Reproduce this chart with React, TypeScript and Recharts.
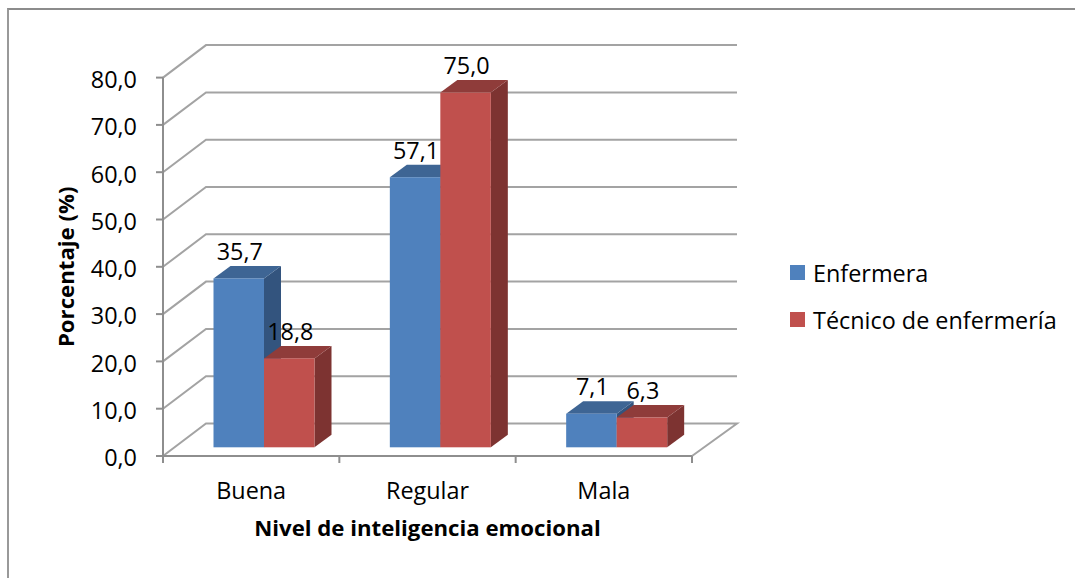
import React from 'react';
import { BarChart, Bar, XAxis, YAxis, CartesianGrid, Legend, LabelList } from 'recharts';

const categories = ['Buena', 'Regular', 'Mala'];
const enfermera = [35.7, 57.1, 7.1];
const tecnico = [18.8, 75.0, 6.3];
const yTicks = [0, 10, 20, 30, 40, 50, 60, 70, 80];
const seriesNames = ['Enfermera', 'Técnico de enfermería'];

const rows = categories.map((c, i) => ({ name: c, enfermera: enfermera[i], tecnico: tecnico[i] }));

const FONT = '"Open Sans", Lato, sans-serif';
const FS = 23.4;
const FS_BOLD = 22.2;
const W = 1075, H = 578;
const M = { top: 77.6, right: 383, bottom: 92, left: 103 };
const BAND = (W - M.left - 60 - M.right) / categories.length;
const PLOT_BOTTOM = H - M.bottom - 30;
const WALL = { dx: 43, dy: -32.5 };
const GRID = '#a3a3a3';
const AXIS = '#8e8e8e';
const BAR_SHIFT = { dx: 12.5, dy: -8.7 };
const DEPTH = { dx: 17, dy: -12.5 };
const fmt = (v: number) => v.toFixed(1).replace('.', ',');

const gridLine = (p: any) => {
  const { x1, x2, y1, key } = p;
  const bx1 = x1 + WALL.dx, bx2 = x2 + WALL.dx + 2, by = y1 + WALL.dy;
  const isFloor = Math.abs(y1 - PLOT_BOTTOM) < 1;
  const pts = isFloor
    ? `${x1},${y1} ${bx1},${by} ${bx2},${by} ${x2},${y1}`
    : `${x1},${y1} ${bx1},${by} ${bx2},${by}`;
  return <polyline key={key} points={pts} fill="none" stroke={GRID} strokeWidth={2} />;
};

const box = (front: string, top: string, side: string) => (p: any) => {
  const x = p.x + BAR_SHIFT.dx, y = p.y + BAR_SHIFT.dy, w = p.width, h = p.height;
  const { dx, dy } = DEPTH;
  return (
    <g>
      <polygon points={`${x + w},${y} ${x + w + dx},${y + dy} ${x + w + dx},${y + h + dy} ${x + w},${y + h}`} fill={side} />
      <polygon points={`${x},${y} ${x + dx},${y + dy} ${x + w + dx},${y + dy} ${x + w},${y}`} fill={top} />
      <rect x={x} y={y} width={w} height={h} fill={front} />
    </g>
  );
};

const valueLabel = (p: any) => (
  <text x={p.x + p.width / 2 + BAR_SHIFT.dx + 1} y={p.y + BAR_SHIFT.dy - 18.5} textAnchor="middle"
    fontFamily={FONT} fontSize={FS} fill="#000">{fmt(p.value)}</text>
);

const XTick = (p: any) => {
  const { x, payload, index } = p;
  const last = index === categories.length - 1;
  const y0 = PLOT_BOTTOM;
  return (
    <g>
      <line x1={x - BAND / 2} x2={x - BAND / 2} y1={y0} y2={y0 + 7} stroke={AXIS} strokeWidth={2} />
      {last && <line x1={x + BAND / 2} x2={x + BAND / 2} y1={y0} y2={y0 + 7} stroke={AXIS} strokeWidth={2} />}
      <text x={x} y={y0 + 43} textAnchor="middle" fontFamily={FONT} fontSize={FS} fill="#000">{payload.value}</text>
    </g>
  );
};

const legendContent = (p: any) => (
  <div style={{ fontFamily: FONT, fontSize: FS, color: '#000' }}>
    {(p.payload || []).map((e: any) => (
      <div key={e.value} style={{ display: 'flex', alignItems: 'center', height: 47, whiteSpace: 'nowrap' }}>
        <span style={{ width: 15, height: 15, background: e.color, marginRight: 8, display: 'inline-block' }} />
        {e.value}
      </div>
    ))}
  </div>
);

export default function App() {
  return (
    <div style={{ position: 'absolute', left: 0, top: 0, width: W, height: H, background: '#fff', overflow: 'hidden' }}>
      <div style={{ position: 'absolute', left: 7, top: 8, width: W, height: H, borderLeft: '2px solid #999', borderTop: '2px solid #8c8c8c' }} />
      <div style={{ position: 'absolute', left: 0, top: 0 }}>
        <BarChart width={W} height={H} data={rows} margin={M} barGap={0} barSize={50.5}>
          <CartesianGrid vertical={false} horizontal={gridLine} />
          <XAxis dataKey="name" height={30} tickLine={false} tick={<XTick />} interval={0}
            axisLine={{ stroke: AXIS, strokeWidth: 2 }}
            label={{ value: 'Nivel de inteligencia emocional', position: 'bottom', offset: 34, fontFamily: FONT, fontSize: FS_BOLD, fontWeight: 700, fill: '#000' }} />
          <YAxis width={60} domain={[0, 80]} ticks={yTicks} tickFormatter={fmt} tickSize={7} tickMargin={19} interval={0}
            tick={{ fontFamily: FONT, fontSize: FS, fill: '#000', dy: 2 }}
            tickLine={{ stroke: AXIS, strokeWidth: 2 }} axisLine={{ stroke: AXIS, strokeWidth: 2 }}
            label={{ value: 'Porcentaje (%)', angle: -90, position: 'left', offset: 37, textAnchor: 'middle', fontFamily: FONT, fontSize: FS_BOLD, fontWeight: 700, fill: '#000' }} />
          <Legend layout="vertical" align="center" verticalAlign="middle" content={legendContent}
            wrapperStyle={{ left: 790, top: 249, width: 285, right: 'auto', bottom: 'auto' }} />
          <Bar dataKey="enfermera" name={seriesNames[0]} fill="#4F81BD" isAnimationActive={false}
            shape={box('#4F81BD', '#3E6594', '#33547E')}>
            <LabelList dataKey="enfermera" content={valueLabel} />
          </Bar>
          <Bar dataKey="tecnico" name={seriesNames[1]} fill="#C0504D" isAnimationActive={false}
            shape={box('#C0504D', '#8F3C3A', '#7D3331')}>
            <LabelList dataKey="tecnico" content={valueLabel} />
          </Bar>
        </BarChart>
      </div>
    </div>
  );
}
